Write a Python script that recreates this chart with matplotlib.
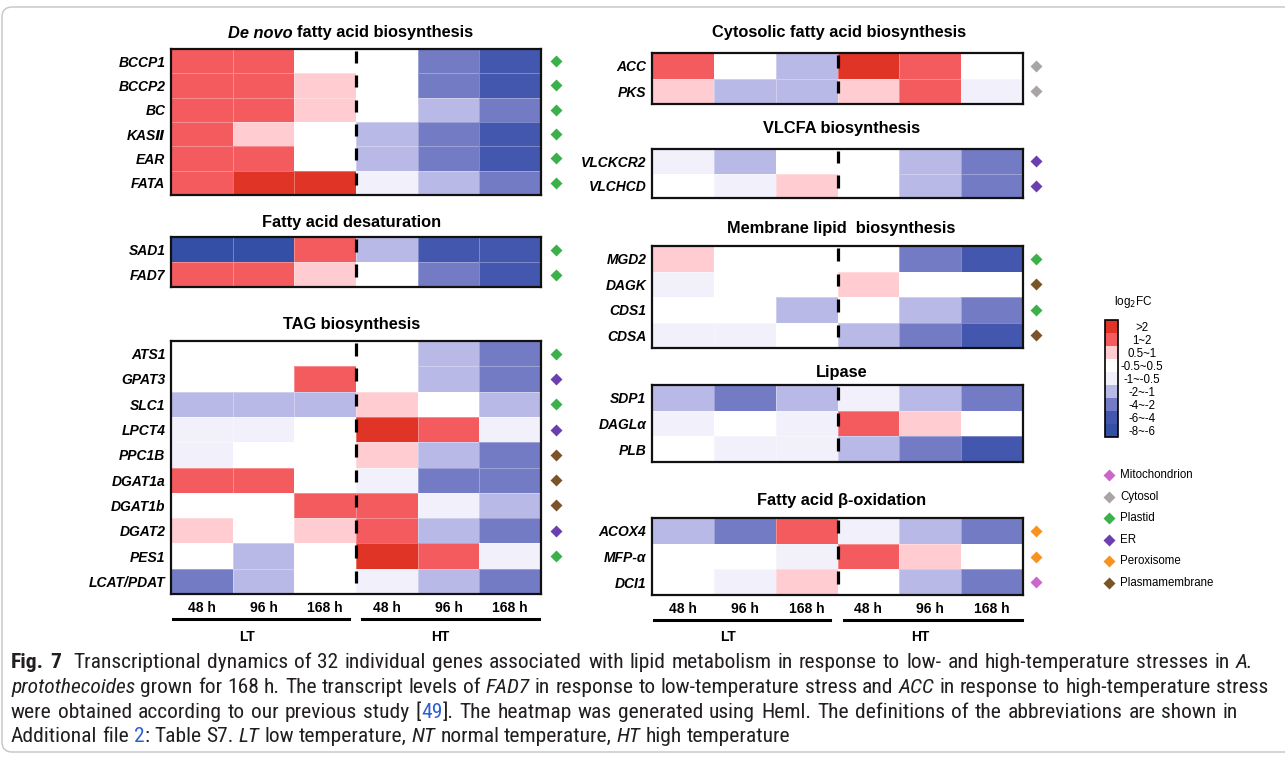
import numpy as np
import matplotlib
matplotlib.use('Agg')
import matplotlib.pyplot as plt
from matplotlib.colors import ListedColormap, BoundaryNorm
from matplotlib.lines import Line2D
from matplotlib.patches import FancyBboxPatch
from matplotlib.transforms import IdentityTransform
from matplotlib import font_manager
import matplotlib.cm as cm

# ---- data: log2FC class values (LT 48/96/168 h, HT 48/96/168 h)
times = ['48 h', '96 h', '168 h', '48 h', '96 h', '168 h']

denovo_genes = ['BCCP1', 'BCCP2', 'BC', 'KAS\u2161', 'EAR', 'FATA']
denovo_fc = [[1.5, 1.5, 0, 0, -3, -5],
             [1.5, 1.5, 0.75, 0, -3, -5],
             [1.5, 1.5, 0.75, 0, -1.5, -3],
             [1.5, 0.75, 0, -1.5, -3, -5],
             [1.5, 1.5, 0, -1.5, -3, -5],
             [1.5, 3, 3, -0.75, -1.5, -3]]
denovo_loc = ['Plastid'] * 6

desat_genes = ['SAD1', 'FAD7']
desat_fc = [[-7, -7, 1.5, -1.5, -5, -5],
            [1.5, 1.5, 0.75, 0, -3, -5]]
desat_loc = ['Plastid', 'Plastid']

tag_genes = ['ATS1', 'GPAT3', 'SLC1', 'LPCT4', 'PPC1B', 'DGAT1a', 'DGAT1b', 'DGAT2', 'PES1', 'LCAT/PDAT']
tag_fc = [[0, 0, 0, 0, -1.5, -3],
          [0, 0, 1.5, 0, -1.5, -3],
          [-1.5, -1.5, -1.5, 0.75, 0, -1.5],
          [-0.75, -0.75, 0, 3, 1.5, -0.75],
          [-0.75, 0, 0, 0.75, -1.5, -3],
          [1.5, 1.5, 0, -0.75, -3, -3],
          [0, 0, 1.5, 1.5, -0.75, -1.5],
          [0.75, 0, 0.75, 1.5, -1.5, -3],
          [0, -1.5, 0, 3, 1.5, -0.75],
          [-3, -1.5, 0, -0.75, -1.5, -3]]
tag_loc = ['Plastid', 'ER', 'Plastid', 'ER', 'Plasmamembrane', 'Plasmamembrane',
           'Plasmamembrane', 'ER', 'Plastid', None]

cyto_genes = ['ACC', 'PKS']
cyto_fc = [[1.5, 0, -1.5, 3, 1.5, 0],
           [0.75, -1.5, -1.5, 0.75, 1.5, -0.75]]
cyto_loc = ['Cytosol', 'Cytosol']

vlcfa_genes = ['VLCKCR2', 'VLCHCD']
vlcfa_fc = [[-0.75, -1.5, 0, 0, -1.5, -3],
            [0, -0.75, 0.75, 0, -1.5, -3]]
vlcfa_loc = ['ER', 'ER']

memb_genes = ['MGD2', 'DAGK', 'CDS1', 'CDSA']
memb_fc = [[0.75, 0, 0, 0, -3, -5],
           [-0.75, 0, 0, 0.75, 0, 0],
           [0, 0, -1.5, 0, -1.5, -3],
           [-0.75, -0.75, 0, -1.5, -3, -5]]
memb_loc = ['Plastid', 'Plasmamembrane', 'Plastid', 'Plasmamembrane']

lipase_genes = ['SDP1', 'DAGL\u03b1', 'PLB']
lipase_fc = [[-1.5, -3, -1.5, -0.75, -1.5, -3],
             [-0.75, 0, -0.75, 1.5, 0.75, 0],
             [0, -0.75, -0.75, -1.5, -3, -5]]
lipase_loc = [None, None, None]

boxid_genes = ['ACOX4', 'MFP-\u03b1', 'DCI1']
boxid_fc = [[-1.5, -3, 1.5, -0.75, -1.5, -3],
            [0, 0, -0.75, 1.5, 0.75, 0],
            [0, -0.75, 0.75, 0, -1.5, -3]]
boxid_loc = ['Peroxisome', 'Peroxisome', 'Mitochondrion']

class_bounds = [-8, -6, -4, -2, -1, -0.5, 0.5, 1, 2, 4]
class_mids = [-7, -5, -3, -1.5, -0.75, 0, 0.75, 1.5, 3]
class_labels = ['-8~-6', '-6~-4', '-4~-2', '-2~-1', '-1~-0.5', '-0.5~0.5', '0.5~1', '1~2', '>2']
class_colors = ['#3450a6', '#4457ae', '#737bc5', '#b9b9e7', '#f2f1fb', '#ffffff', '#ffccd1', '#f45b5f', '#e03427']

loc_names = ['Mitochondrion', 'Cytosol', 'Plastid', 'ER', 'Peroxisome', 'Plasmamembrane']
loc_colors = ['#cc66cc', '#a9a5a5', '#3cb14a', '#6b3faf', '#f7931e', '#7b5527']
loc_color = dict(zip(loc_names, loc_colors))

plt.rcParams['font.family'] = ['Liberation Sans', 'DejaVu Sans']

W, H = 1285, 761
fig = plt.figure(figsize=(W / 100, H / 100), dpi=100)
cmap = ListedColormap(class_colors)
norm = BoundaryNorm(class_bounds, cmap.N)
TSIZE = 11.8


def fx(x):
    return x / W


def fy(y):
    return 1 - y / H


def rect(x0, y0, x1, y1):
    return [x0 / W, 1 - y1 / H, (x1 - x0) / W, (y1 - y0) / H]


def panel(x0, x1, y0, y1, genes, fc, locs, dx, xlabels=False):
    ax = fig.add_axes(rect(x0, y0, x1, y1))
    n = len(genes)
    ax.pcolormesh(np.array(fc), cmap=cmap, norm=norm, edgecolors=(1, 1, 1, 0.3), linewidth=0.6)
    ax.set_xlim(0, 6)
    ax.set_ylim(n, 0)
    ax.set_yticks(np.arange(n) + 0.5, genes, fontweight='bold', fontstyle='italic', fontsize=10)
    if xlabels:
        ax.set_xticks(np.arange(6) + 0.5, times, fontweight='bold', fontsize=10)
    else:
        ax.set_xticks([])
    ax.tick_params(length=0, pad=4)
    ax.tick_params(axis='x', pad=5)
    for s in ax.spines.values():
        s.set_linewidth(1.6)
        s.set_color('#111111')
    # dashed separator between LT and HT
    rows = np.arange(n)
    ax.vlines(np.full(n, 3.0), rows + 0.08, rows + 0.58, color='black', lw=2.3)
    off = dx / ((x1 - x0) / 6)
    for i, loc in enumerate(locs):
        if loc:
            ax.plot(6 + off, i + 0.5, 'D', color=loc_color[loc], ms=6.2, mec='none', clip_on=False)
    return ax


def title(cx, cy, s):
    fig.text(fx(cx), fy(cy), s, ha='center', va='center', fontsize=TSIZE, fontweight='bold')


# left column
fig.text(fx(293), fy(33), 'De novo', ha='right', va='center', fontsize=TSIZE, fontweight='bold', fontstyle='italic')
fig.text(fx(297), fy(33), 'fatty acid biosynthesis', ha='left', va='center', fontsize=TSIZE, fontweight='bold')
panel(171, 541, 49, 195, denovo_genes, denovo_fc, denovo_loc, 15)
title(352, 222, 'Fatty acid desaturation')
panel(171, 541, 237, 287, desat_genes, desat_fc, desat_loc, 15)
title(352, 325, 'TAG biosynthesis')
panel(171, 541, 341, 594, tag_genes, tag_fc, tag_loc, 15, xlabels=True)

# right column
title(839, 33, 'Cytosolic fatty acid biosynthesis')
panel(652, 1023, 53, 104, cyto_genes, cyto_fc, cyto_loc, 13)
title(842, 129, 'VLCFA biosynthesis')
panel(652, 1023, 149, 198, vlcfa_genes, vlcfa_fc, vlcfa_loc, 13)
title(841, 229, 'Membrane lipid  biosynthesis')
panel(652, 1023, 246, 348, memb_genes, memb_fc, memb_loc, 13)
title(842, 372, 'Lipase')
panel(652, 1023, 385, 462, lipase_genes, lipase_fc, lipase_loc, 13)
title(842, 501, 'Fatty acid \u03b2-oxidation')
panel(652, 1023, 518, 595, boxid_genes, boxid_fc, boxid_loc, 13, xlabels=True)

# LT / HT group bars
for (a, b, y) in [(173, 349, 619), (362, 539, 619), (654, 830, 620), (844, 1022, 620)]:
    fig.add_artist(Line2D([fx(a), fx(b)], [fy(y), fy(y)], transform=fig.transFigure, color='black', lw=2.2))
for (x, s) in [(247, 'LT'), (440, 'HT'), (728, 'LT'), (920, 'HT')]:
    fig.text(fx(x), fy(637), s, ha='center', va='center', fontsize=10, fontweight='bold')

# colour key
fig.text(fx(1133), fy(302), 'log$_2$FC', ha='center', va='center', fontsize=8.5)
cax = fig.add_axes(rect(1105, 320, 1118, 437))
cb = fig.colorbar(cm.ScalarMappable(norm=norm, cmap=cmap), cax=cax, ticks=class_mids)
cb.set_ticklabels(class_labels)
cb.minorticks_off()
cb.outline.set_linewidth(1.2)
cax.tick_params(length=0, pad=17.3, labelsize=8.3)
for t in cax.get_yticklabels():
    t.set_ha('center')

# location key
for k, (name, col) in enumerate(zip(loc_names, loc_colors)):
    y = 475 + k * 21.6
    fig.add_artist(Line2D([fx(1109)], [fy(y)], transform=fig.transFigure, marker='D',
                          color=col, ms=6, mec='none', lw=0))
    fig.text(fx(1120), fy(y), name, ha='left', va='center', fontsize=8.3)

# frame
fig.add_artist(FancyBboxPatch((2, H - 752), 1400, 745, boxstyle='round,pad=0,rounding_size=10',
                              transform=IdentityTransform(), fc='none', ec='#c4c4c4', lw=1))

# ---- caption (justified)
avail = {f.name for f in font_manager.fontManager.ttflist}
cap_font = next((f for f in ['Liberation Sans Narrow', 'Roboto Condensed', 'DejaVu Sans Condensed', 'Roboto']
                 if f in avail), 'DejaVu Sans')
blue = '#2f5fd0'
ink = '#231f20'
cap_lines = [
    [('Fig. 7', 'b', ink), ('  Transcriptional dynamics of 32 individual genes associated with lipid metabolism in response to low- and high-temperature stresses in ', 'n', ink), ('A.', 'i', ink)],
    [('protothecoides', 'i', ink), (' grown for 168 h. The transcript levels of ', 'n', ink), ('FAD7', 'i', ink),
     (' in response to low-temperature stress and ', 'n', ink), ('ACC', 'i', ink), (' in response to high-temperature stress', 'n', ink)],
    [('were obtained according to our previous study [', 'n', ink), ('49', 'n', blue),
     ('] The heatmap was generated using Heml. The definitions of the abbreviations are shown in'.replace('] ', ']. '), 'n', ink)],
    [('Additional file ', 'n', ink), ('2', 'n', blue), (': Table S7. ', 'n', ink), ('LT', 'i', ink), (' low temperature, ', 'n', ink),
     ('NT', 'i', ink), (' normal temperature, ', 'n', ink), ('HT', 'i', ink), (' high temperature', 'n', ink)],
]
cap_right = [1253, 1268, 1238, None]
cap_base = [668, 693, 718, 742]
cap_x0 = 11
renderer = fig.canvas.get_renderer()


def style(st):
    return dict(fontweight='bold' if st == 'b' else 'normal', fontstyle='italic' if st == 'i' else 'normal')


def width(s, size, st):
    t = fig.text(0, 0, s, fontsize=size, family=cap_font, **style(st))
    w = t.get_window_extent(renderer).width
    t.remove()
    return w


def tokens(runs):
    items = []
    for text, st, col in runs:
        for k, p in enumerate(text.split(' ')):
            if k:
                items.append(None)
            if p:
                items.append((p, st, col))
    return items


size0 = 12
scale = 10
for runs, right in zip(cap_lines, cap_right):
    if right is None:
        continue
    it = tokens(runs)
    sp = width('a a', size0, 'n') - width('aa', size0, 'n')
    nat = sum(width(w, size0, st) for w, st, c in [i for i in it if i]) + it.count(None) * sp
    scale = min(scale, (right - cap_x0) / nat)
size = size0 * scale * 0.995

for runs, right, yb in zip(cap_lines, cap_right, cap_base):
    it = tokens(runs)
    ws = [width(i[0], size, i[1]) if i else 0 for i in it]
    sp = width('a a', size, 'n') - width('aa', size, 'n')
    if right is not None:
        sp = (right - cap_x0 - sum(ws)) / it.count(None)
    x = cap_x0
    for i, w in zip(it, ws):
        if i is None:
            x += sp
            continue
        fig.text(fx(x), fy(yb), i[0], fontsize=size, family=cap_font, color=i[2], va='baseline', ha='left', **style(i[1]))
        x += w

fig.savefig('out.png', dpi=100)
